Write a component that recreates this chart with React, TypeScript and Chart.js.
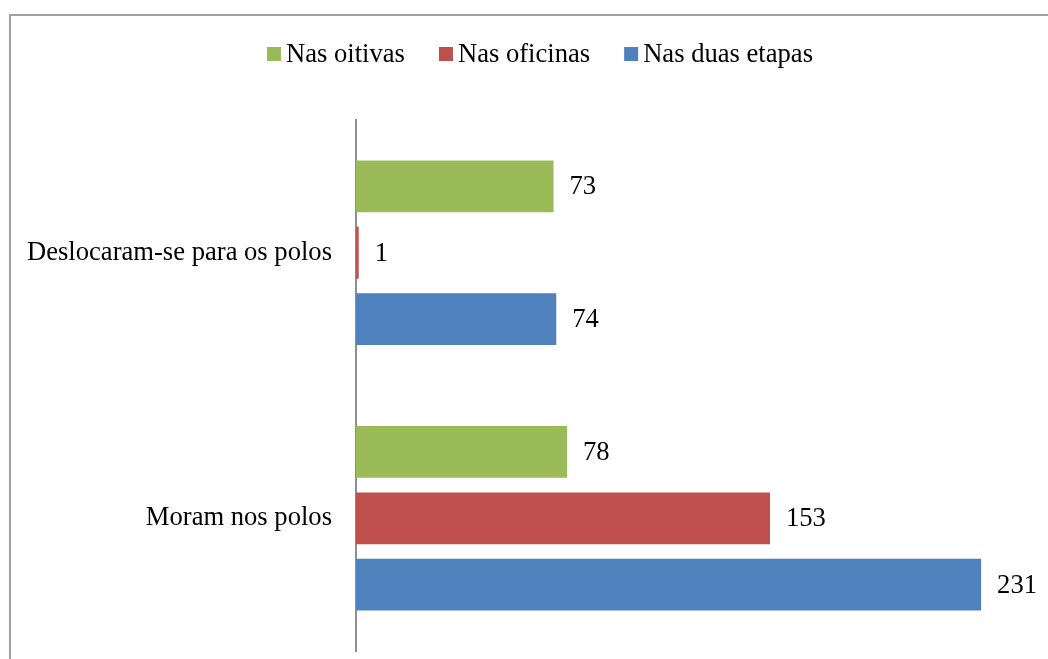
import React, { useEffect, useRef } from "react";
import { Chart, registerables } from "chart.js";

Chart.register(...registerables);

const categories = ["Deslocaram-se para os polos", "Moram nos polos"];
const seriesNames = ["Nas oitivas", "Nas oficinas", "Nas duas etapas"];
const oitivas = [73, 78];
const oficinas = [1, 153];
const duasEtapas = [74, 231];
const seriesColors = ["#9BBB59", "#C0504D", "#4F81BD"];
const xMin = 0;
const xMax = 250;

const FONT = "'Liberation Serif', 'Times New Roman', serif";
const FONT_SIZE = 26.6;

const legendPlugin = {
  id: "customLegend",
  afterDraw(chart: any) {
    const ctx = chart.ctx;
    ctx.save();
    ctx.font = `${FONT_SIZE}px ${FONT}`;
    const box = 14;
    const gapText = 5;
    const gapItem = 34;
    const items = chart.data.datasets.map((ds: any) => ({
      text: ds.label,
      color: ds.backgroundColor,
      w: ctx.measureText(ds.label).width,
    }));
    const total =
      items.reduce((s: number, it: any) => s + box + gapText + it.w, 0) +
      gapItem * (items.length - 1);
    let x = 540 - total / 2;
    const cy = 54;
    ctx.textBaseline = "middle";
    ctx.textAlign = "left";
    for (const it of items) {
      ctx.fillStyle = it.color;
      ctx.fillRect(x, cy - box / 2, box, box);
      x += box + gapText;
      ctx.fillStyle = "#000";
      ctx.fillText(it.text, x, cy + 1);
      x += it.w + gapItem;
    }
    ctx.restore();
  },
};

const valueLabelPlugin = {
  id: "valueLabels",
  afterDatasetsDraw(chart: any) {
    const ctx = chart.ctx;
    ctx.save();
    ctx.font = `${FONT_SIZE}px ${FONT}`;
    ctx.fillStyle = "#000";
    ctx.textBaseline = "middle";
    ctx.textAlign = "left";
    chart.data.datasets.forEach((ds: any, di: number) => {
      const meta = chart.getDatasetMeta(di);
      meta.data.forEach((el: any, i: number) => {
        ctx.fillText(String(ds.data[i]), el.x + 16, el.y + 1);
      });
    });
    ctx.restore();
  },
};

export default function App() {
  const canvasRef = useRef<HTMLCanvasElement | null>(null);

  useEffect(() => {
    if (!canvasRef.current) return;
    const seriesData = [oitivas, oficinas, duasEtapas];
    const chart = new Chart(canvasRef.current, {
      type: "bar",
      data: {
        labels: categories,
        datasets: seriesNames.map((name, i) => ({
          label: name,
          data: seriesData[i],
          backgroundColor: seriesColors[i],
          borderWidth: 0,
          categoryPercentage: 0.75,
          barPercentage: 0.78,
        })),
      },
      options: {
        indexAxis: "y",
        responsive: false,
        animation: false,
        devicePixelRatio: 1,
        layout: { padding: { top: 120, bottom: 7, left: 0, right: 47.5 } },
        plugins: {
          legend: { display: false },
          tooltip: { enabled: false },
          title: { display: false },
        },
        scales: {
          x: {
            display: false,
            min: xMin,
            max: xMax,
          },
          y: {
            grid: { display: false, drawTicks: false },
            border: { display: true, color: "#8f8f8f", width: 2 },
            ticks: {
              color: "#000",
              padding: 24,
              font: { family: FONT, size: FONT_SIZE },
            },
            afterFit(scale: any) {
              scale.width = 356;
            },
          },
        },
      } as any,
      plugins: [legendPlugin, valueLabelPlugin],
    });
    return () => chart.destroy();
  }, []);

  return (
    <div
      style={{
        position: "fixed",
        left: 0,
        top: 0,
        width: 1048,
        height: 659,
        overflow: "hidden",
        background: "#fff",
      }}
    >
      <div
        style={{
          position: "absolute",
          left: 9,
          top: 14,
          width: 1100,
          height: 700,
          border: "2px solid #a0a0a0",
          boxSizing: "border-box",
        }}
      />
      <canvas
        ref={canvasRef}
        width={1080}
        height={691}
        style={{ position: "absolute", left: 0, top: 0, width: 1080, height: 691 }}
      />
    </div>
  );
}
